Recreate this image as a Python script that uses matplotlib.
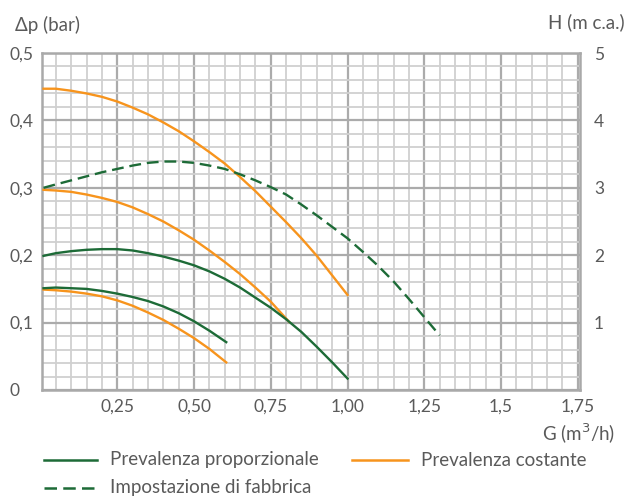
import matplotlib
matplotlib.use("Agg")
import matplotlib.pyplot as plt
from matplotlib.ticker import MultipleLocator, FixedLocator
from matplotlib.lines import Line2D

# ---- data ----
x_c1 = [0.01, 0.05, 0.1, 0.15, 0.2, 0.25, 0.3, 0.35, 0.4, 0.45, 0.5, 0.55, 0.6, 0.65, 0.7, 0.75, 0.8, 0.85, 0.9, 0.95, 1.0]
y_c1 = [0.447, 0.447, 0.444, 0.440, 0.435, 0.428, 0.419, 0.409, 0.397, 0.384, 0.369, 0.353, 0.336, 0.316, 0.295, 0.272, 0.249, 0.225, 0.199, 0.170, 0.141]

x_c2 = [0.01, 0.05, 0.1, 0.15, 0.2, 0.25, 0.3, 0.35, 0.4, 0.45, 0.5, 0.55, 0.6, 0.65, 0.7, 0.75, 0.81]
y_c2 = [0.297, 0.296, 0.294, 0.290, 0.285, 0.279, 0.271, 0.261, 0.250, 0.237, 0.223, 0.207, 0.190, 0.172, 0.152, 0.131, 0.101]

x_c3 = [0.01, 0.05, 0.1, 0.15, 0.2, 0.25, 0.3, 0.35, 0.4, 0.45, 0.5, 0.55, 0.605]
y_c3 = [0.149, 0.148, 0.146, 0.143, 0.139, 0.133, 0.125, 0.115, 0.104, 0.091, 0.077, 0.061, 0.041]

x_p1 = [0.01, 0.05, 0.1, 0.15, 0.2, 0.25, 0.3, 0.35, 0.4, 0.45, 0.5, 0.55, 0.6, 0.65, 0.7, 0.75, 0.8, 0.85, 0.9, 0.95, 1.0]
y_p1 = [0.199, 0.203, 0.206, 0.208, 0.209, 0.209, 0.207, 0.203, 0.198, 0.192, 0.185, 0.176, 0.165, 0.152, 0.137, 0.122, 0.105, 0.086, 0.064, 0.041, 0.017]

x_p2 = [0.01, 0.05, 0.1, 0.15, 0.2, 0.25, 0.3, 0.35, 0.4, 0.45, 0.5, 0.55, 0.605]
y_p2 = [0.151, 0.152, 0.151, 0.150, 0.147, 0.143, 0.138, 0.132, 0.124, 0.114, 0.102, 0.088, 0.071]

x_f = [0.01, 0.05, 0.1, 0.15, 0.2, 0.25, 0.3, 0.35, 0.4, 0.45, 0.5, 0.55, 0.6, 0.65, 0.7, 0.75, 0.8, 0.85, 0.9, 0.95, 1.0, 1.05, 1.1, 1.15, 1.2, 1.25, 1.3]
y_f = [0.300, 0.305, 0.311, 0.317, 0.323, 0.328, 0.333, 0.337, 0.339, 0.339, 0.337, 0.333, 0.328, 0.320, 0.311, 0.301, 0.290, 0.275, 0.259, 0.242, 0.225, 0.205, 0.184, 0.161, 0.135, 0.108, 0.081]

x_ticks = [0.25, 0.50, 0.75, 1.00, 1.25, 1.5, 1.75]
x_labels = ["0,25", "0,50", "0,75", "1,00", "1,25", "1,5", "1,75"]
y_ticks = [0, 0.1, 0.2, 0.3, 0.4, 0.5]
y_labels = ["0", "0,1", "0,2", "0,3", "0,4", "0,5"]
h_ticks = [1, 2, 3, 4, 5]
h_labels = ["1", "2", "3", "4", "5"]

legend_labels = ["Prevalenza proporzionale", "Prevalenza costante", "Impostazione di fabbrica"]

GREEN = "#1d6b37"
ORANGE = "#f7941d"
TXT = "#5a5a5a"
FS = 13.5
TFS = 12.5

plt.rcParams['font.family'] = ['Lato', 'DejaVu Sans']

fig = plt.figure(figsize=(6.28, 4.99), dpi=100)
W, H = 628, 499
L, R, T, B = 42, 580, 53, 390
ax = fig.add_axes([L / W, 1 - B / H, (R - L) / W, (B - T) / H])

ax.set_xlim(0.005, 1.757)
ax.set_ylim(0, 0.5)

ax.xaxis.set_major_locator(FixedLocator(x_ticks))
ax.set_xticklabels(x_labels)
ax.xaxis.set_minor_locator(MultipleLocator(0.05))
ax.yaxis.set_major_locator(FixedLocator(y_ticks))
ax.set_yticklabels(y_labels, ha='left')
ax.yaxis.set_minor_locator(MultipleLocator(0.02))

ax.grid(which='minor', color='#d0d0d0', linewidth=1.3, zorder=0)
ax.grid(which='major', color='#ababab', linewidth=1.6, zorder=0)
ax.set_axisbelow(True)
for s in ax.spines.values():
    s.set_color('#a9a9a9')
    s.set_linewidth(1.8)

ax.tick_params(which='both', length=0, labelsize=TFS, labelcolor=TXT)
ax.tick_params(axis='x', pad=6)
ax.tick_params(axis='y', pad=32 * 72 / 100)

ax2 = ax.twinx()
ax2.set_ylim(0, 5)
ax2.yaxis.set_major_locator(FixedLocator(h_ticks))
ax2.set_yticklabels(h_labels)
ax2.tick_params(length=0, labelsize=TFS, labelcolor=TXT, pad=10)
for s in ax2.spines.values():
    s.set_visible(False)

lw = 1.7
ax.plot(x_c1, y_c1, color=ORANGE, lw=lw, zorder=3)
ax.plot(x_c2, y_c2, color=ORANGE, lw=lw, zorder=3)
ax.plot(x_c3, y_c3, color=ORANGE, lw=lw, zorder=3)
ax.plot(x_p1, y_p1, color=GREEN, lw=lw, zorder=4)
ax.plot(x_p2, y_p2, color=GREEN, lw=lw, zorder=4)
ax.plot(x_f, y_f, color=GREEN, lw=lw, ls=(0, (5, 2.5)), zorder=4)

fig.text(15 / W, 1 - 25 / H, "Δp (bar)", fontsize=FS, color=TXT, va='center', ha='left')
fig.text(625 / W, 1 - 22 / H, "H (m c.a.)", fontsize=FS, color=TXT, va='center', ha='right')
fig.text(615 / W, 1 - 434 / H, "G (m$^3$/h)", fontsize=FS, color=TXT, va='center', ha='right')

# legend
def leg(x0, x1, y, label, color, ls):
    fig.add_artist(Line2D([x0 / W, x1 / W], [1 - y / H, 1 - y / H], color=color, lw=1.8, ls=ls,
                          transform=fig.transFigure))
    fig.text((x1 + 13) / W, 1 - y / H, label, fontsize=FS, color=TXT, va='center', ha='left')

leg(44, 97, 460, legend_labels[0], GREEN, '-')
leg(352, 408, 460, legend_labels[1], ORANGE, '-')
leg(44, 97, 488, legend_labels[2], GREEN, (0, (5, 2.5)))

fig.savefig("out.png", dpi=100)
